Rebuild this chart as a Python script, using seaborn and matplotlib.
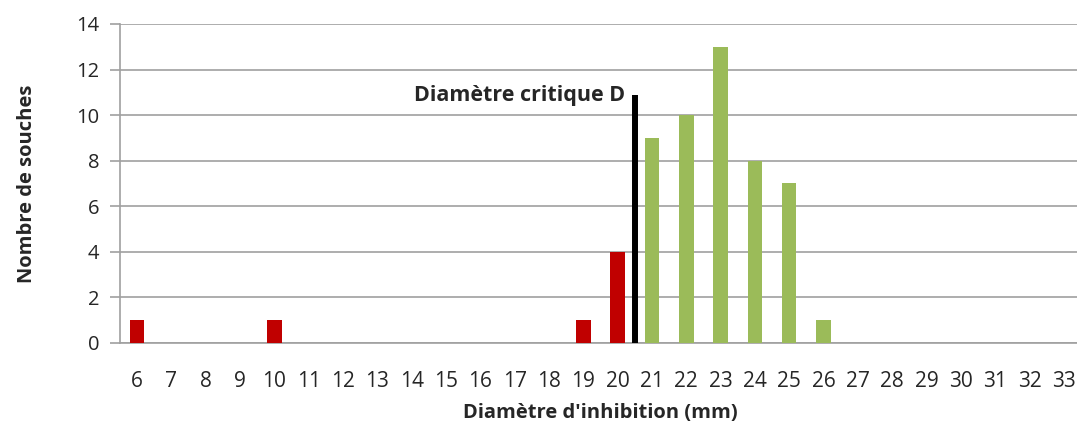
import pandas as pd
import numpy as np
import matplotlib
matplotlib.use("Agg")
import matplotlib.pyplot as plt
import seaborn as sns

# donnees
diametres = list(range(6, 34))
nb_souches = [1, 0, 0, 0, 1, 0, 0, 0, 0, 0, 0, 0, 0, 1, 4,
              9, 10, 13, 8, 7, 1, 0, 0, 0, 0, 0, 0, 0]
groupes = ["R" if d <= 20 else "S" for d in diametres]
diametre_critique = 20.5
hauteur_critique = 10.9

df = pd.DataFrame({"diametre": [str(d) for d in diametres],
                   "souches": nb_souches,
                   "groupe": groupes})

sns.set_style("white")
plt.rcParams['font.family'] = ['Open Sans', 'DejaVu Sans']

fig = plt.figure(figsize=(10.77, 4.26), dpi=100)
ax = fig.add_axes([120/1077, 83/426, 961/1077, 319/426])

sns.barplot(data=df, x="diametre", y="souches", hue="groupe",
            palette={"R": "#C00000", "S": "#9BBB59"}, dodge=False,
            saturation=1, linewidth=0, width=0.42, legend=False,
            ax=ax, zorder=3)

# ligne du diametre critique (entre 20 et 21)
pos = diametres.index(20) + (diametre_critique - 20)
ax.plot([pos, pos], [0, hauteur_critique], color="black", lw=4.3,
        solid_capstyle="butt", zorder=4)
ax.text(pos - 0.28, hauteur_critique - 0.05, "Diamètre critique D",
        ha="right", va="center", fontsize=15.5, fontweight="bold", zorder=5)

ax.set_xlim(-0.5, len(diametres) - 0.5)
ax.set_ylim(0, 14)
ax.set_yticks(np.arange(0, 15, 2))
ax.yaxis.grid(True, color="#A0A0A0", lw=1.2, zorder=0)
ax.set_axisbelow(True)

ax.set_xticks(range(len(diametres)))
ax.set_xticklabels([str(d) for d in diametres])
ax.set_xticks(np.arange(-0.5, len(diametres), 1), minor=True)
ax.tick_params(axis="x", which="major", length=0, pad=20, labelsize=15, colors="#262626")
ax.tick_params(axis="x", which="minor", length=7, width=1.2, color="#A0A0A0", direction="out")
ax.tick_params(axis="y", length=7, width=1.2, color="#A0A0A0", labelsize=14.5,
               pad=8, left=True, labelcolor="#262626")

for s in ["top", "right"]:
    ax.spines[s].set_visible(False)
for s in ["left", "bottom"]:
    ax.spines[s].set_color("#A0A0A0")
    ax.spines[s].set_linewidth(1.2)

ax.set_xlabel("Diamètre d'inhibition (mm)", fontsize=14.5, fontweight="bold", labelpad=8)
ax.set_ylabel("Nombre de souches", fontsize=14.5, fontweight="bold", labelpad=28)

fig.savefig("out.png", dpi=100)
